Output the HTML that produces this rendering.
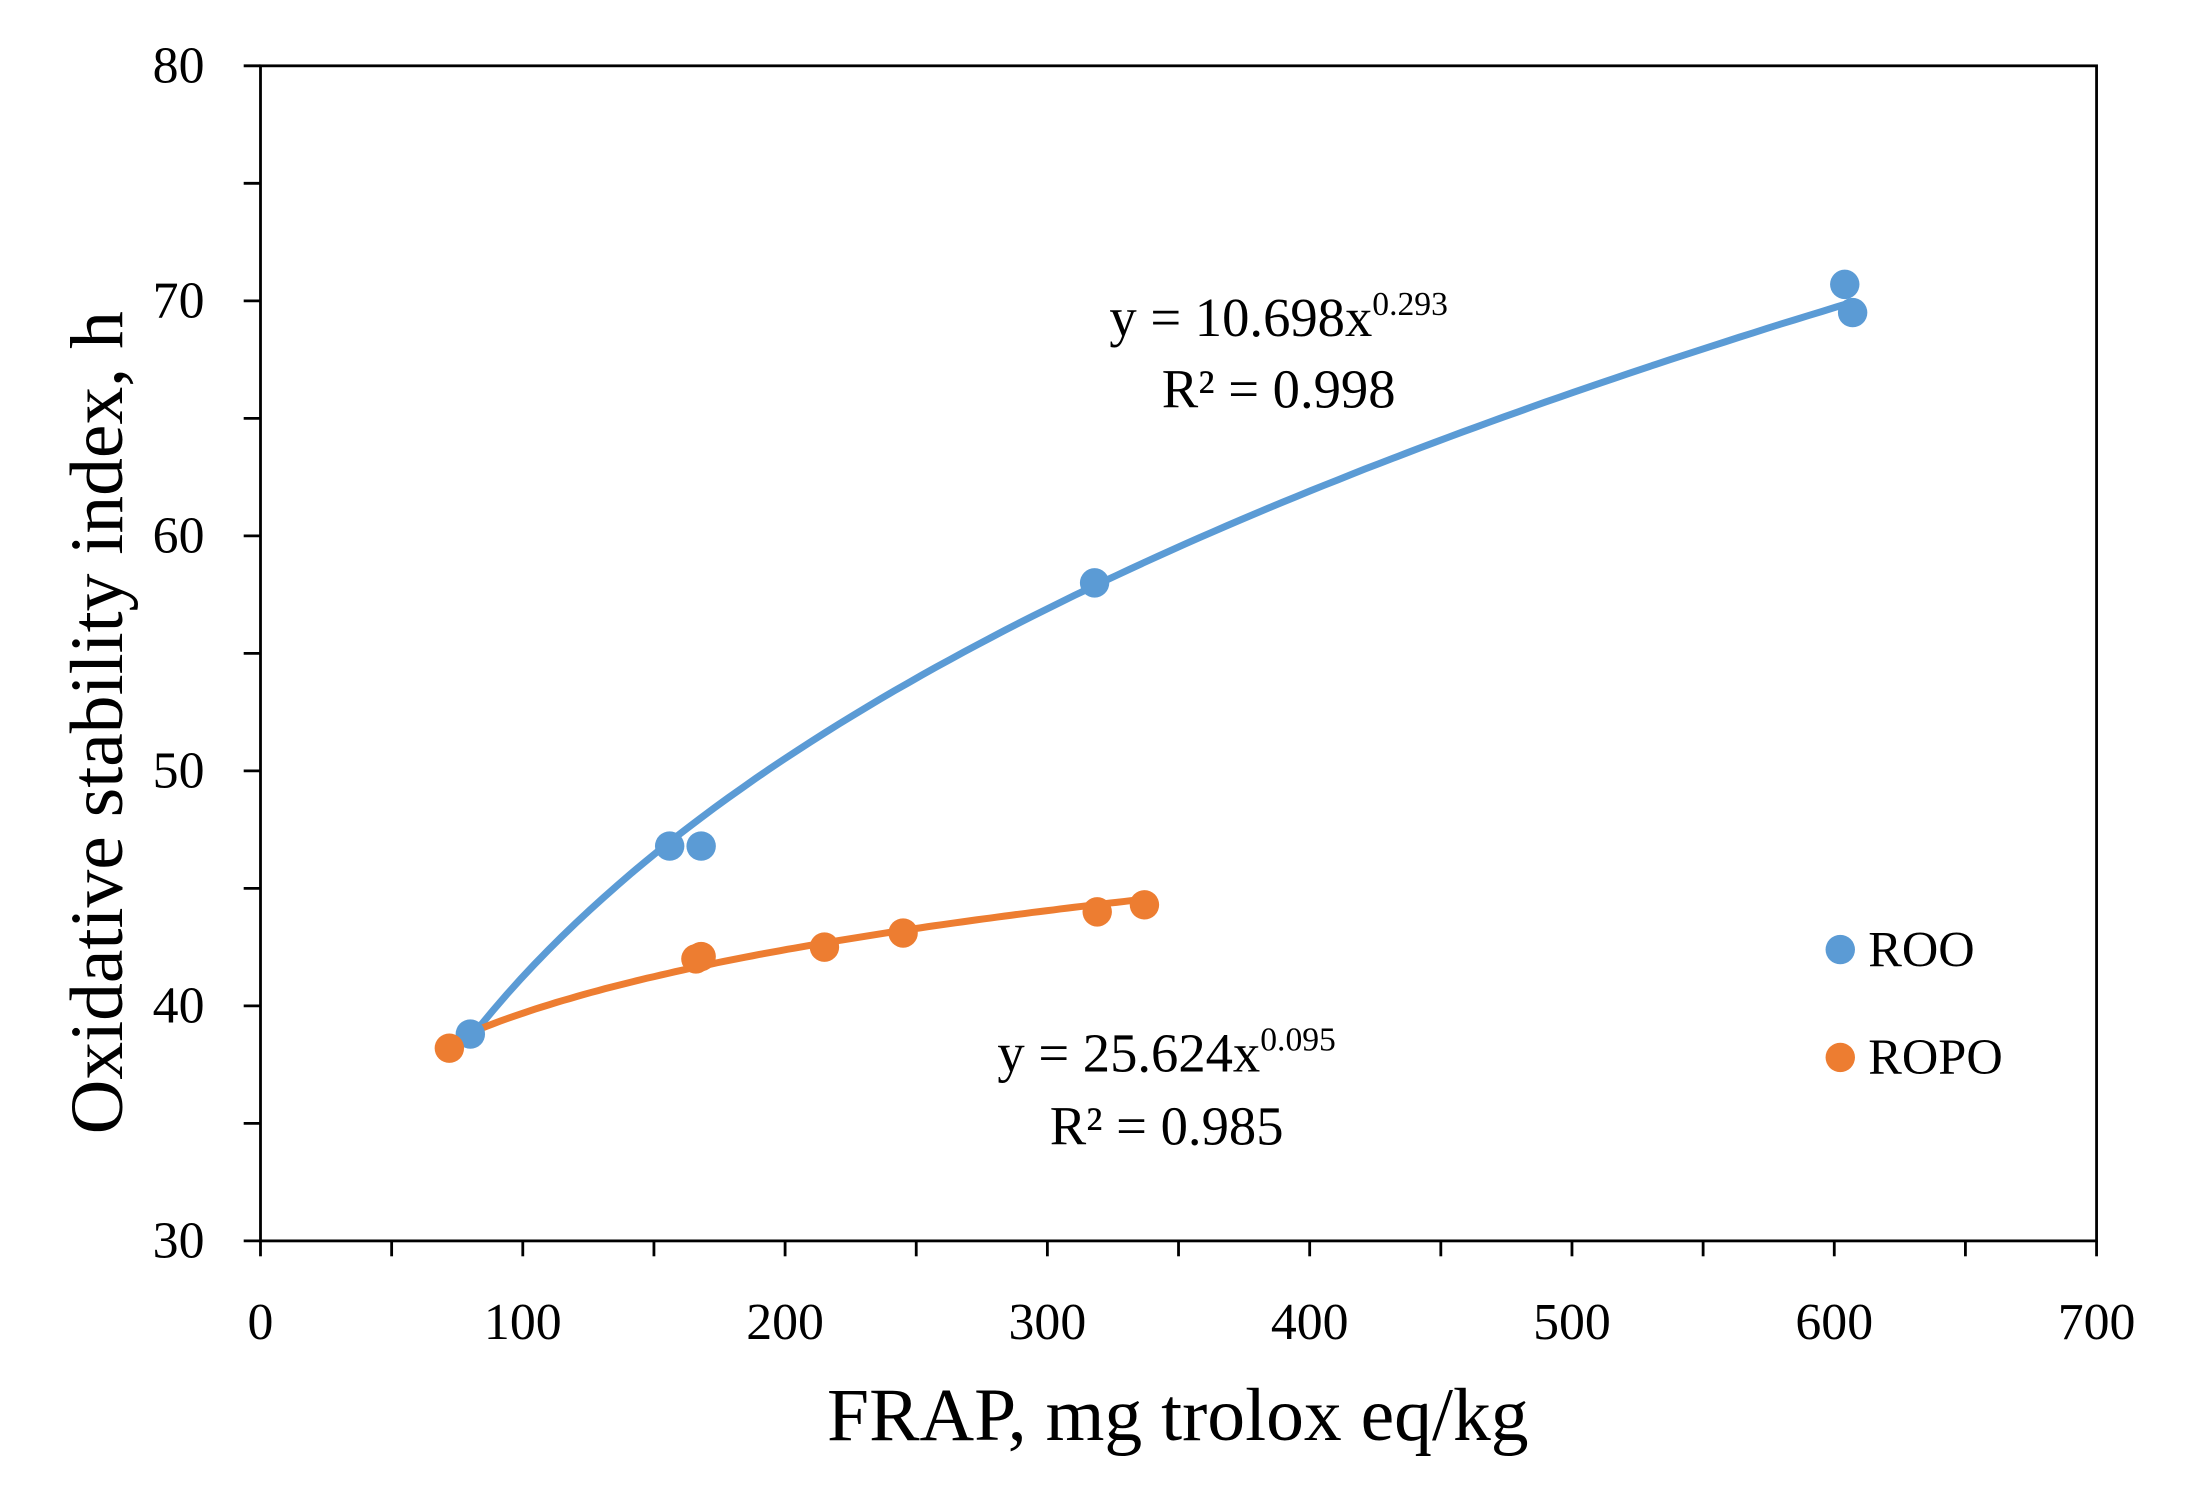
<!DOCTYPE html>
<html><head><meta charset="utf-8"><style>
html,body{margin:0;padding:0;background:#fff;}
svg{display:block;}
text{font-family:"Liberation Serif",serif;fill:#000;}
</style></head><body>
<svg id="s" width="2196" height="1500" viewBox="0 0 1568 1071" preserveAspectRatio="none" xmlns="http://www.w3.org/2000/svg">
<rect x="0" y="0" width="1568" height="1071" fill="#fff"/>
<g id="g"></g>
<rect x="186" y="47" width="1311" height="839" fill="none" stroke="#000" stroke-width="2"/>
<text x="913" y="240" font-size="39" text-anchor="middle">y = 10.698x<tspan font-size="24" dy="-15">0.293</tspan></text>
<text x="913" y="291" font-size="39" text-anchor="middle">R² = 0.998</text>
<text x="833" y="765" font-size="39" text-anchor="middle">y = 25.624x<tspan font-size="24" dy="-15">0.095</tspan></text>
<text x="833" y="817" font-size="39" text-anchor="middle">R² = 0.985</text>
<circle cx="1314" cy="678" r="10.5" fill="#5b9bd5"/>
<text x="1334" y="690" font-size="36">ROO</text>
<circle cx="1314" cy="755" r="10.5" fill="#ed7d31"/>
<text x="1334" y="767" font-size="36">ROPO</text>
<text x="841" y="1028" font-size="54" text-anchor="middle">FRAP, mg trolox eq/kg</text>
<text transform="translate(87,516) rotate(-90)" font-size="54" text-anchor="middle">Oxidative stability index, h</text>
</svg>
<script>
var g=document.getElementById('g'),ns="http://www.w3.org/2000/svg";
function X(v){return 186+v*1311/700;}
function Y(v){return 886-(v-30)*839/50;}
function el(t,a,txt){var e=document.createElementNS(ns,t);for(var k in a)e.setAttribute(k,a[k]);if(txt!=null)e.textContent=txt;g.appendChild(e);return e;}
for(var v=30;v<=80;v+=5){el('line',{x1:174,x2:186,y1:Y(v),y2:Y(v),stroke:'#000','stroke-width':2});
 if(v%10==0)el('text',{x:146,y:Y(v)+12,'font-size':37,'text-anchor':'end'},v);}
for(var v=0;v<=700;v+=50){el('line',{x1:X(v),x2:X(v),y1:886,y2:897,stroke:'#000','stroke-width':2});
 if(v%100==0)el('text',{x:X(v),y:956,'font-size':37,'text-anchor':'middle'},v);}
function curve(a,b,x0,x1,c){var d='';for(var i=0;i<=100;i++){var x=x0+(x1-x0)*i/100;d+=(i?'L':'M')+X(x).toFixed(1)+','+Y(a*Math.pow(x,b)).toFixed(1);}
 el('path',{d:d,fill:'none',stroke:c,'stroke-width':5});}
curve(10.698,0.293,78,606,'#5b9bd5');
curve(25.624,0.095,70,337,'#ed7d31');
[[80,38.8],[156,46.8],[168,46.8],[318,58],[604,70.7],[607,69.5]].forEach(function(p){el('circle',{cx:X(p[0]),cy:Y(p[1]),r:10.5,fill:'#5b9bd5'});});
[[72,38.2],[166,42],[168,42.1],[215,42.5],[245,43.1],[319,44],[337,44.3]].forEach(function(p){el('circle',{cx:X(p[0]),cy:Y(p[1]),r:10.5,fill:'#ed7d31'});});
</script>
</body></html>
